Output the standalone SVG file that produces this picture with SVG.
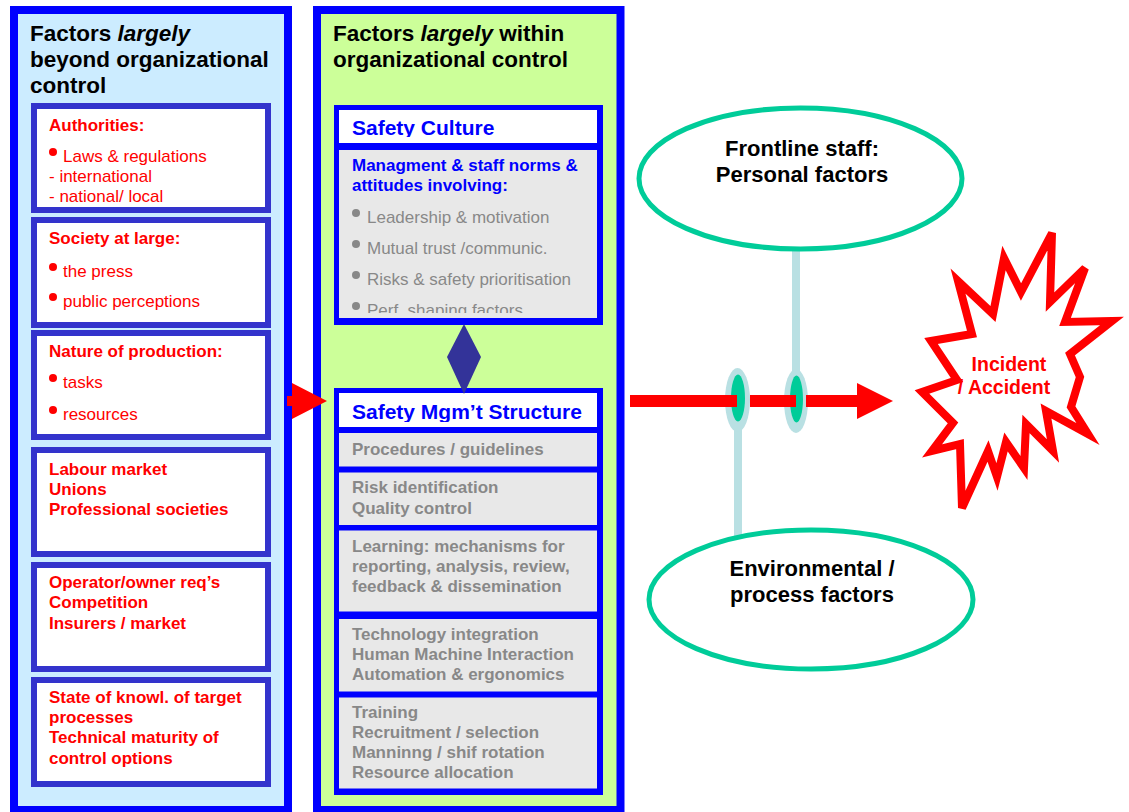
<svg xmlns="http://www.w3.org/2000/svg" width="1129" height="812" viewBox="0 0 1129 812">
<defs>
<style>
text{font-family:"Liberation Sans",Arial,sans-serif}
.title{font-size:22.5px;font-weight:bold;fill:#000}
.lbox{fill:#fff;stroke:#3333CC;stroke-width:6}
.rb{font-size:17px;font-weight:bold;fill:#FF0000}
.rr{font-size:17px;fill:#FF0000}
.hdr{font-size:21px;font-weight:bold;fill:#0000FF}
.bb{font-size:17px;font-weight:bold;fill:#0000FF}
.gr{font-size:17px;fill:#888888}
.gb{font-size:17px;font-weight:bold;fill:#888888}
.cell{fill:#E8E8E8}
.ell{fill:#fff;stroke:#00CC99;stroke-width:5}
.et{font-size:22px;font-weight:bold;fill:#000;text-anchor:middle}
.stem{stroke:#B9E0E3;stroke-width:8}
.red{fill:#FF0000}
</style>
<clipPath id="c1"><rect x="339" y="110" width="258" height="27"/></clipPath>
<clipPath id="c2"><rect x="339" y="150" width="258" height="163"/></clipPath>
<clipPath id="c3"><rect x="339" y="393" width="258" height="29"/></clipPath>
</defs>

<g id="col-left">
<rect x="14" y="10" width="274" height="800" fill="#CCECFF" stroke="#0000FF" stroke-width="8"/>
<text class="title" x="30" y="41">Factors <tspan font-style="italic">largely</tspan></text>
<text class="title" x="30" y="67">beyond organizational</text>
<text class="title" x="30" y="93">control</text>
</g>

<g id="box-authorities">
<rect class="lbox" x="34" y="106" width="234" height="104"/>
<text class="rb" x="49" y="131">Authorities:</text>
<circle class="red" cx="53" cy="152" r="4"/>
<text class="rr" x="63" y="162">Laws &amp; regulations</text>
<text class="rr" x="49" y="182">- international</text>
<text class="rr" x="49" y="202">- national/ local</text>
</g>

<g id="box-society">
<rect class="lbox" x="34" y="220" width="234" height="105"/>
<text class="rb" x="49" y="244">Society at large:</text>
<circle class="red" cx="53" cy="267" r="4"/>
<text class="rr" x="63" y="277">the press</text>
<circle class="red" cx="53" cy="297" r="4"/>
<text class="rr" x="63" y="307">public perceptions</text>
</g>

<g id="box-production">
<rect class="lbox" x="34" y="333" width="234" height="104"/>
<text class="rb" x="49" y="357">Nature of production:</text>
<circle class="red" cx="53" cy="378" r="4"/>
<text class="rr" x="63" y="388">tasks</text>
<circle class="red" cx="53" cy="410" r="4"/>
<text class="rr" x="63" y="420">resources</text>
</g>

<g id="box-labour">
<rect class="lbox" x="34" y="450" width="234" height="104"/>
<text class="rb" x="49" y="475">Labour market</text>
<text class="rb" x="49" y="495">Unions</text>
<text class="rb" x="49" y="515">Professional societies</text>
</g>

<g id="box-operator">
<rect class="lbox" x="34" y="565" width="234" height="104"/>
<text class="rb" x="49" y="588">Operator/owner req’s</text>
<text class="rb" x="49" y="608">Competition</text>
<text class="rb" x="49" y="629">Insurers / market</text>
</g>

<g id="box-knowledge">
<rect class="lbox" x="34" y="680" width="234" height="104"/>
<text class="rb" x="49" y="703">State of knowl. of target</text>
<text class="rb" x="49" y="723">processes</text>
<text class="rb" x="49" y="743">Technical maturity of</text>
<text class="rb" x="49" y="764">control options</text>
</g>

<g id="col-middle">
<rect x="317" y="10" width="303.5" height="800" fill="#CCFF99" stroke="#0000FF" stroke-width="8"/>
<text class="title" x="333" y="41">Factors <tspan font-style="italic">largely</tspan> within</text>
<text class="title" x="333" y="67">organizational control</text>
</g>

<g id="safety-culture">
<rect x="334" y="105" width="269" height="220" fill="#0000FF"/>
<rect x="339" y="110" width="258" height="33" fill="#fff"/>
<rect class="cell" x="339" y="150" width="258" height="168"/>
<text class="hdr" x="352" y="135" clip-path="url(#c1)">Safety Culture</text>
<text class="bb" x="352" y="171">Managment &amp; staff norms &amp;</text>
<text class="bb" x="352" y="191">attitudes involving:</text>
<g clip-path="url(#c2)">
<circle fill="#888" cx="356" cy="213" r="4"/>
<text class="gr" x="367" y="223">Leadership &amp; motivation</text>
<circle fill="#888" cx="356" cy="244" r="4"/>
<text class="gr" x="367" y="254">Mutual trust /communic.</text>
<circle fill="#888" cx="356" cy="275" r="4"/>
<text class="gr" x="367" y="285">Risks &amp; safety prioritisation</text>
<circle fill="#888" cx="356" cy="306" r="4"/>
<text class="gr" x="367" y="316">Perf. shaping factors</text>
</g>
</g>

<g id="safety-mgmt">
<rect x="334" y="388" width="269" height="407" fill="#0000FF"/>
<rect x="339" y="393" width="258" height="34" fill="#fff"/>
<text class="hdr" x="352" y="419" clip-path="url(#c3)">Safety Mgm’t Structure</text>
<rect class="cell" x="339" y="433" width="258" height="33.5"/>
<text class="gb" x="352" y="455">Procedures / guidelines</text>
<rect class="cell" x="339" y="472.5" width="258" height="52.5"/>
<text class="gb" x="352" y="493">Risk identification</text>
<text class="gb" x="352" y="514">Quality control</text>
<rect class="cell" x="339" y="530.5" width="258" height="81"/>
<text class="gb" x="352" y="552">Learning: mechanisms for</text>
<text class="gb" x="352" y="572">reporting, analysis, review,</text>
<text class="gb" x="352" y="592">feedback &amp; dissemination</text>
<rect class="cell" x="339" y="619" width="258" height="72.5"/>
<text class="gb" x="352" y="640">Technology integration</text>
<text class="gb" x="352" y="660">Human Machine Interaction</text>
<text class="gb" x="352" y="680">Automation &amp; ergonomics</text>
<rect class="cell" x="339" y="697.5" width="258" height="91"/>
<text class="gb" x="352" y="718">Training</text>
<text class="gb" x="352" y="738">Recruitment / selection</text>
<text class="gb" x="352" y="758">Manninng / shif rotation</text>
<text class="gb" x="352" y="778">Resource allocation</text>
</g>

<g id="connectors">
<path class="red" d="M287,396 H292 V383 L327,401 L292,419 V406 H287 Z"/>
<polygon points="464,324 481,357 464,394 447,357" fill="#333399"/>
<line class="stem" x1="738" y1="430" x2="738" y2="538"/>
<line class="stem" x1="796" y1="245" x2="796" y2="372"/>
<ellipse cx="737.5" cy="400" rx="12.5" ry="32" fill="#B9E0E3"/>
<ellipse cx="738" cy="398" rx="7" ry="23.5" fill="#00CC99"/>
<ellipse cx="796" cy="401" rx="12" ry="32" fill="#B9E0E3"/>
<ellipse cx="796.5" cy="399" rx="6.5" ry="23.5" fill="#00CC99"/>
<rect class="red" x="630" y="395" width="107" height="12"/>
<rect class="red" x="750" y="395" width="46" height="12"/>
<path class="red" d="M806,395 H857 V383 L893,401 L857,419 V407 H806 Z"/>
</g>

<g id="frontline">
<ellipse class="ell" cx="800.5" cy="178.5" rx="161.5" ry="70.5"/>
<text class="et" x="802" y="156">Frontline staff:</text>
<text class="et" x="802" y="182">Personal factors</text>
</g>

<g id="environmental">
<ellipse class="ell" cx="811" cy="599.5" rx="162" ry="69.5"/>
<text class="et" x="812" y="576">Environmental /</text>
<text class="et" x="812" y="602">process factors</text>
</g>

<g id="incident">
<polygon fill="#fff" stroke="#FF0000" stroke-width="8" stroke-linejoin="miter" points="1004,258 1021,292 1052,233 1050,302 1085,268 1065,322 1112,321 1070,354 1080,377 1071,407 1088,434 1046,411 1053,451 1026,424 1024,468 1006,442 997,477 988,451 962,508 960,444 932,451 953,423 922,392 957,380 931,341 972,334 958,281 993,314"/>
<text x="1009" y="371" font-size="19.5px" font-weight="bold" fill="#FF0000" text-anchor="middle">Incident</text>
<text x="1004" y="394" font-size="19.5px" font-weight="bold" fill="#FF0000" text-anchor="middle">/ Accident</text>
</g>
</svg>
